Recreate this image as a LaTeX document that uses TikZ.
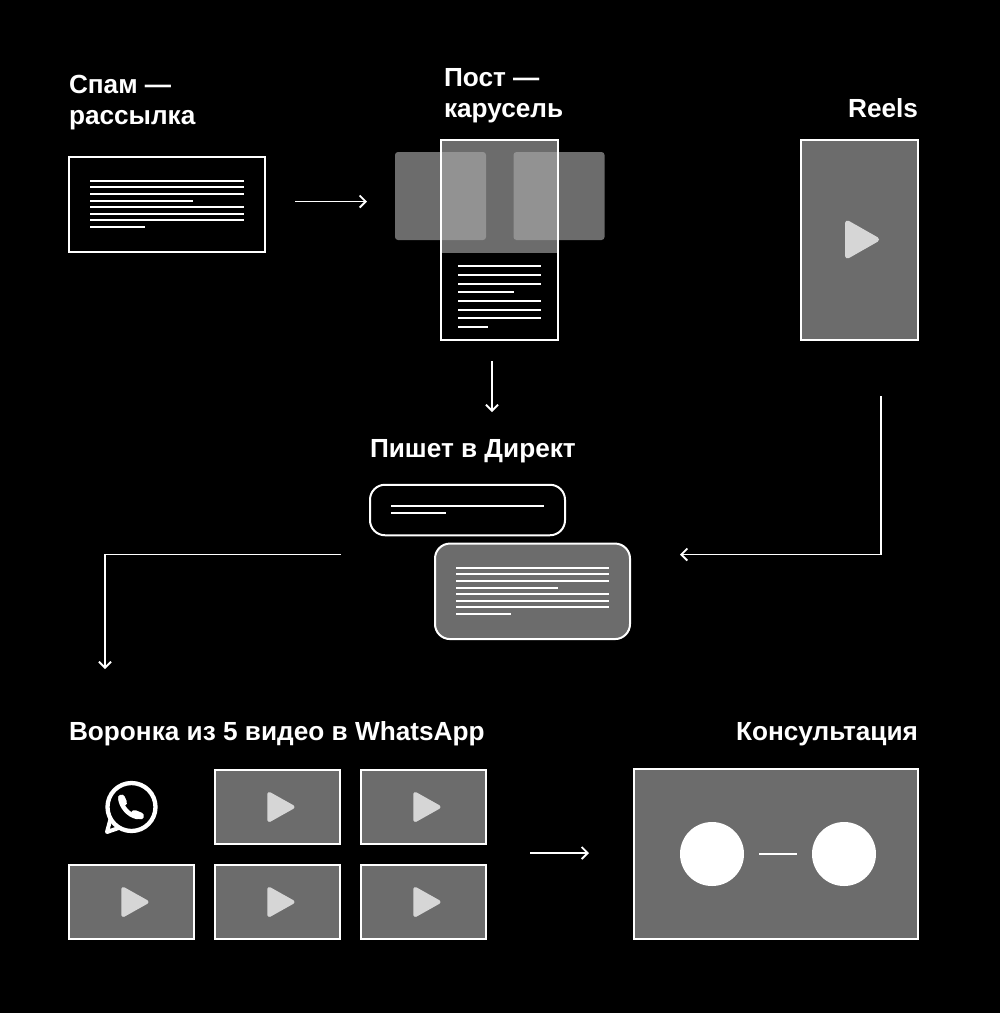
\documentclass[tikz,border=0pt]{standalone}
\usepackage{fontspec}
\setmainfont{Liberation Sans}
\usetikzlibrary{positioning,calc,arrows.meta}

\definecolor{boxgray}{HTML}{6C6C6C}
\definecolor{overlapgray}{HTML}{929292}
\definecolor{playgray}{HTML}{D6D6D6}

% eight lines of text: x start, x end, x end of 4th line, x end of 8th line, y start, row gap
\newcommand{\textrows}[6]{
    \foreach \row in {1,...,8}{
        \pgfmathsetmacro{\rowy}{#5+(\row-1)*#6}
        \pgfmathsetmacro{\rowx}{\row==4 ? #3 : (\row==8 ? #4 : #2)}
        \draw[textline] (#1,\rowy) -- (\rowx,\rowy);
    }
}

\begin{document}
\begin{tikzpicture}[x=1pt, y=-1pt,
    arrow/.style={-{Straight Barb[length=6pt,width=12pt]}, white, line width=1.8pt},
    title/.style={white, font=\fontsize{26.2}{31.5}\selectfont\bfseries, inner sep=0pt, outer sep=0pt, align=left},
    framebox/.style={draw=white, line width=2pt, fill=black, inner sep=0pt, outer sep=0pt},
    graybox/.style={framebox, fill=boxgray},
    slide/.style={fill=boxgray, rounded corners=3pt, inner sep=0pt, outer sep=0pt, minimum width=91pt, minimum height=88pt},
    video/.style={graybox, minimum width=125pt, minimum height=74pt},
    talk/.style={framebox, rounded corners=15pt},
    person/.style={circle, fill=white, minimum size=64pt, inner sep=0pt, outer sep=0pt},
    textline/.style={white, line width=2pt},
    play/.style={fill=playgray, draw=playgray, line join=round, line width=4pt}
]
\useasboundingbox[fill=black] (0,0) rectangle (1000,1013);

%prva razina: spam
\node[framebox, minimum width=196pt, minimum height=95pt] (spam) at (167,204.5) {};
\node[title, anchor=south west] (spamtitle) at (69,130) {Спам —\\рассылка};
\textrows{90}{244}{192.7}{145.3}{180.7}{6.62}

%post s karuselom
\node[framebox, minimum width=117pt, minimum height=200pt] (post) at (499.5,239.5) {};
\fill[boxgray] (post.north west) rectangle (post.east |- 0,253);
\node[slide] (slideleft) at (440.5,196) {};
\node[slide] (slideright) at (559,196) {};
\begin{scope}
    \clip (post.north west) rectangle (post.south east);
    \node[slide, fill=overlapgray] (overlapleft) at (440.5,196) {};
    \node[slide, fill=overlapgray] (overlapright) at (559,196) {};
\end{scope}
\draw[white, line width=2pt] (post.north west) rectangle (post.south east);
\node[title, anchor=south west] (posttitle) at (444,123) {Пост —\\карусель};
\textrows{458.3}{541.3}{514}{487.7}{266.3}{8.67}

%reels
\node[graybox, minimum width=117pt, minimum height=200pt] (reels) at (859.5,239.5) {};
\node[title, anchor=base east] (reelstitle) at (918,117) {Reels};
\draw[play, line width=5pt] (847.5,223) -- (876.5,239.5) -- (847.5,256) -- cycle;

%direkt
\node[title, anchor=south west] (directtitle) at (370,463) {Пишет в Директ};
\node[talk, minimum width=195pt, minimum height=50.5pt] (question) at (467.5,510) {};
\node[talk, fill=boxgray, minimum width=195pt, minimum height=95.5pt] (answer) at (532.5,591.3) {};
\draw[textline] (391,505.7) -- (544,505.7);
\draw[textline] (391,512.7) -- (446,512.7);
\textrows{456}{609}{558}{510.7}{567.7}{6.62}

%voronka
\node[title, anchor=south west] (funneltitle) at (69,746) {Воронка из 5 видео в WhatsApp};
\node[video] (vb) at (277.5,807) {};
\node[video, right=21pt of vb] (vc) {};
\node[video] (vd) at (131.5,902) {};
\node[video, right=21pt of vd] (ve) {};
\node[video, right=21pt of ve] (vf) {};
\foreach \vid in {vb,vc,vd,ve,vf}{
    \draw[play] ($(\vid)+(-8.2,-13)$) -- ($(\vid)+(15,0)$) -- ($(\vid)+(-8.2,13)$) -- cycle;
}

%whatsapp
\node[circle, draw=white, line width=4.3pt, minimum size=48pt, inner sep=0pt, outer sep=0pt] (whatsapp) at (131.5,807) {};
\draw[white, line width=4pt, line join=round] (110.5,819) -- (107,832) -- (120,827.5);
\draw[white, line width=4.5pt, line cap=round] (120.5,799) .. controls (121,806) and (128,815) .. (137,817);
\draw[white, line width=7pt, line cap=round] (121.5,798) -- (123.5,802.5);
\draw[white, line width=7pt, line cap=round] (134.5,813.5) -- (140.5,816);

%konzultacija
\node[title, anchor=south east] (consulttitle) at (918,746) {Консультация};
\node[graybox, minimum width=284pt, minimum height=170pt] (call) at (776,854) {};
\node[person] (personleft) at (712,854) {};
\node[person] (personright) at (844,854) {};
\draw[white, line width=1.5pt, shorten <=15pt, shorten >=15pt] (personleft) -- (personright);

%slobodni krajevi strelica
\coordinate (spamout) at (295,201.5);
\coordinate (postin) at (367,201.5);
\coordinate (postout) at (492,361);
\coordinate (directin) at (492,412);
\coordinate (reelsout) at (881,396);
\coordinate (answerin) at (680,554.5);
\coordinate (questionout) at (341,554.5);
\coordinate (funnelin) at (105,669);
\coordinate (funnelout) at (530,853);
\coordinate (callin) at (589,853);

%strelice
\draw[arrow] (spamout) -- (postin);
\draw[arrow] (postout) -- (directin);
\draw[arrow] (reelsout) |- (answerin);
\draw[arrow] (questionout) -| (funnelin);
\draw[arrow] (funnelout) -- (callin);

\end{tikzpicture}
\end{document}
